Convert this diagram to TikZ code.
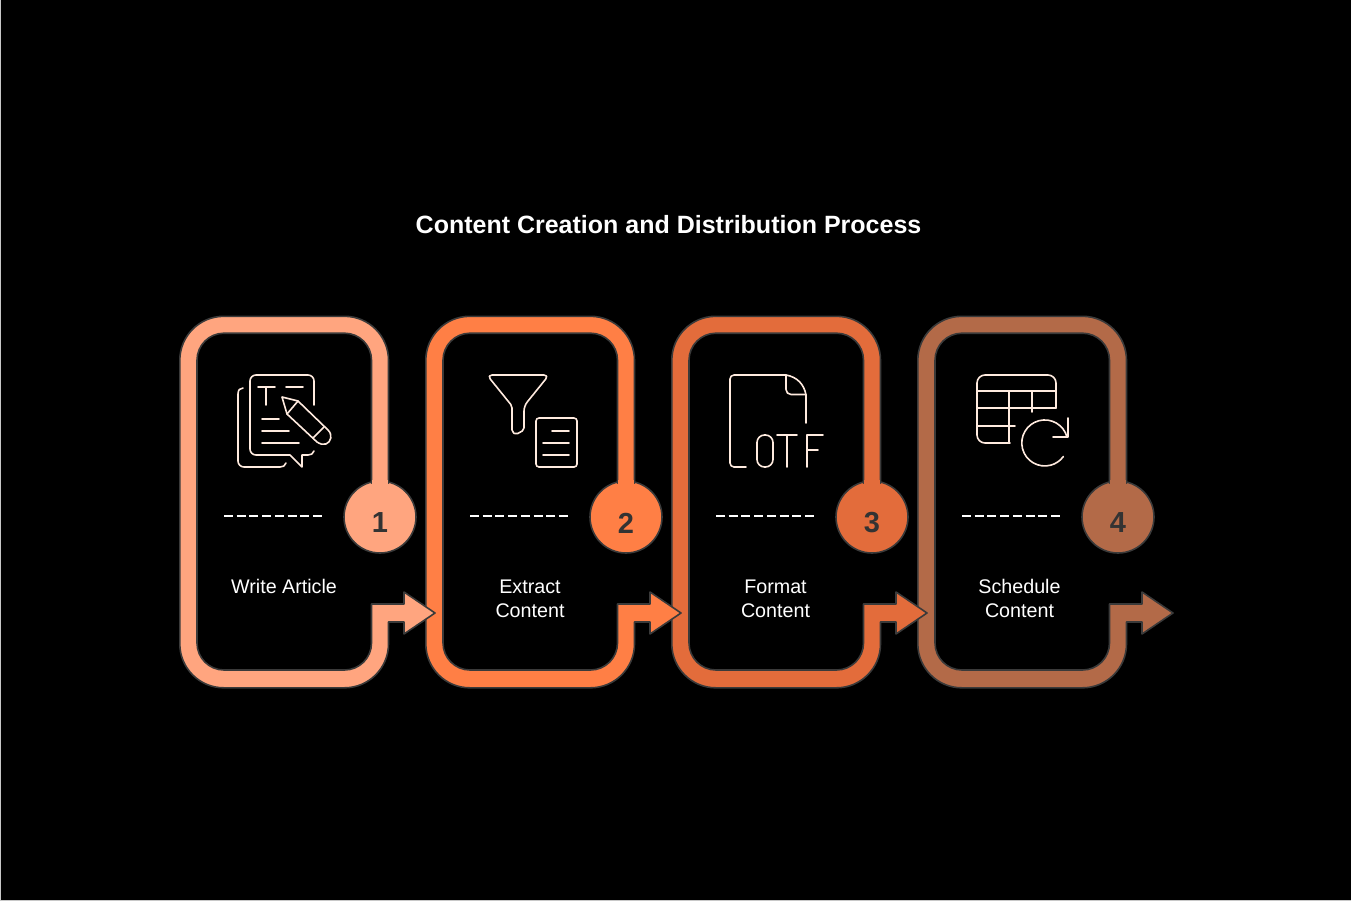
\documentclass[tikz,border=0pt]{standalone}
\usepackage{fontspec}
\setmainfont{Liberation Sans}
\definecolor{peach}{HTML}{FFA57F}
\definecolor{tangerine}{HTML}{FF7F45}
\definecolor{burnt}{HTML}{E36C3B}
\definecolor{clay}{HTML}{B36A48}
\definecolor{edge}{HTML}{3A3A3A}
\definecolor{ink}{HTML}{333333}
\definecolor{cream}{HTML}{FFEBDF}
\definecolor{frame}{HTML}{C8C8C8}
\tikzset{band/.style={draw=edge,line width=1.6pt,line join=round},
         badge/.style={circle,draw=edge,line width=1.6pt,minimum size=72pt,inner sep=0pt},
         digit/.style={text=ink,font=\fontsize{29}{29}\selectfont\bfseries},
         caption/.style={text=white,anchor=north,align=center,inner sep=0pt,font=\fontsize{19.7}{24}\selectfont},
         rule/.style={white,line width=1.5pt,dash pattern=on 9pt off 3.7pt},
         icon/.style={cream,line width=1.6pt,line cap=round,line join=round}}
\begin{document}
\begin{tikzpicture}[x=1pt,y=-1pt]
    \useasboundingbox (0,0) rectangle (1351,901);
    \fill[black] (0,0) rectangle (1351,901);
    \draw[frame,line width=1pt] (0.5,0) -- (0.5,900.5) -- (1351,900.5);

    \node[text=white,inner sep=0pt,font=\fontsize{25}{25}\selectfont\bfseries](title)at(668.5,225){Content Creation and Distribution Process};

    \foreach \s/\c/\n/\l/\t in {738/clay/4/1019.5/{Schedule\\Content},
                                492/burnt/3/775.5/{Format\\Content},
                                246/tangerine/2/530/{Extract\\Content},
                                0/peach/1/284/{Write Article}}{
        \begin{scope}[shift={(\s,0)}]
            \node[badge,fill=\c](b\n)at(380,517){};
            \draw[band,fill=\c](388.5,483)[rounded corners=44pt]--(388.5,316.3)--(179.8,316.3)--(179.8,687.8)--(388.5,687.8)
                [sharp corners]--(388.5,622)--(404,622)--(404,634)--(435,613)--(404,592)--(404,604)--(371.5,604)
                [rounded corners=27pt]--(371.5,670)--(197,670)--(197,333.2)--(371.5,333.2)[sharp corners]--(371.5,483)--cycle;
            \fill[\c](372.3,480) rectangle (387.7,486);
            \node[digit](d\n)at(380,523){\n};
            \draw[rule](224,516)--(323,516);
        \end{scope}
        \node[caption](c\n)at(\l,579.5){\t};
    }

    \draw[icon](314,405)[rounded corners=6pt]--(314,375)--(250,375)--(250,455)[sharp corners]--(290,455)--(302,467)--(302,455)--(308,455)..controls (311,455) and (313,454)..(314,451);
    \draw[icon](243,388)..controls (240,388) and (238,390)..(238,394)[rounded corners=6pt]--(238,467)[sharp corners]--(280,467)..controls (283,467) and (285,466)..(286,463);
    \draw[icon](258,387)--(275,387) (266,387)--(266,405) (286,387)--(303,387);
    \draw[icon](262,419)--(279,419) (262,431)--(289,431) (262,443)--(299,443);
    \draw[icon](282,397)--(298,401)--(328,430)..controls (333,435) and (331,442)..(326,444)..controls (323,445) and (320,444)..(317,442)--(287,414)--cycle;
    \draw[icon](287,414)--(298,401) (313,438)--(324,427);

    \draw[icon](518,375)[rounded corners=5pt]--(549,375)--(524,406)[rounded corners=2pt]--(524,430)--(516,434.5)--(512,432)--(512,406)[rounded corners=5pt]--(487,375)--cycle;
    \draw[icon,rounded corners=3pt](536,418) rectangle (577,467);
    \draw[icon](552,431)--(569,431) (543,443)--(569,443) (543,455)--(569,455);

    \draw[icon](746,467)[rounded corners=4pt]--(730,467)--(730,375)[sharp corners]--(786,375)..controls (797,377) and (804,384)..(806,395)--(806,423);
    \draw[icon](786,375)[rounded corners=5pt]--(786,394.5)[sharp corners]--(806,394.5);
    \draw[icon,rounded corners=7.5pt](757,435) rectangle (773,467);
    \draw[icon](777,435)--(797,435) (787,435)--(787,467);
    \draw[icon](807,467)--(807,435)--(823,435) (807,450)--(818,450);

    \draw[icon](1056,408)[rounded corners=8pt]--(1056,375)--(977,375)--(977,443)[sharp corners]--(1010,443);
    \draw[icon](977,391)--(1056,391) (977,408)--(1056,408) (977,426)--(1015,426);
    \draw[icon](1009,391)--(1009,443) (1032,391)--(1032,412);
    \draw[icon](1068,418)--(1068,437)--(1053,437);
    \draw[icon](1067,437) arc[start angle=-15,end angle=-324,radius=23];
\end{tikzpicture}
\end{document}
